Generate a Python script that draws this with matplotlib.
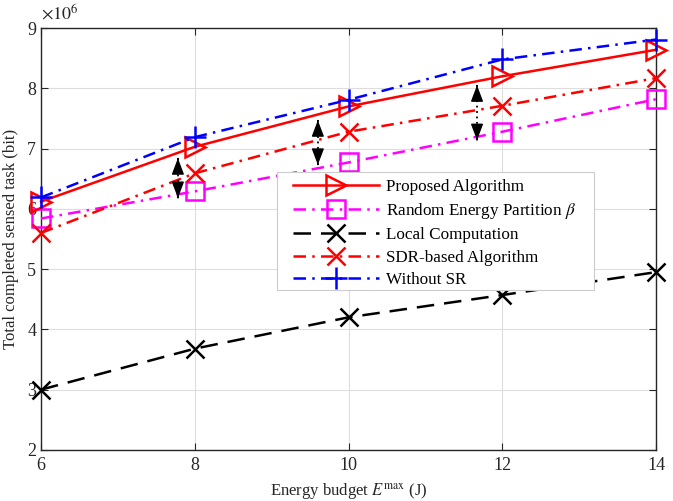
import matplotlib
matplotlib.use("Agg")
import matplotlib.pyplot as plt
from matplotlib.patches import Rectangle

plt.rcParams['font.family'] = ['Liberation Serif', 'DejaVu Serif']
plt.rcParams['mathtext.fontset'] = 'stix'

energy = [6, 8, 10, 12, 14]
proposed = [6.12, 7.03, 7.70, 8.20, 8.64]
random_beta = [5.84, 6.29, 6.77, 7.28, 7.82]
local = [3.00, 3.68, 4.20, 4.57, 4.95]
sdr = [5.60, 6.59, 7.28, 7.71, 8.17]
without_sr = [6.19, 7.19, 7.81, 8.48, 8.81]

labels = ['Proposed Algorithm', r'Random Energy Partition $\beta$',
          'Local Computation', 'SDR-based Algorithm', 'Without SR']

# double arrows (x, y_top, y_bottom)
arrow_x = [7.78, 9.60, 11.67]
arrow_top = [6.84, 7.47, 8.05]
arrow_bot = [6.18, 6.73, 7.14]

fig = plt.figure(figsize=(6.73, 5.01), dpi=100)
ax = fig.add_axes([0.061, 0.102, 0.914, 0.842])

lw = 1.8
dashdot = (0, (5, 2.5, 1, 2.5))
common = dict(clip_on=False)
ax.plot(energy, proposed, color='red', lw=lw, ls='-', marker='>', ms=15,
        mfc='none', mew=1.8, label=labels[0], zorder=5, **common)
ax.plot(energy, random_beta, color='magenta', lw=lw, ls=dashdot, marker='s', ms=12.5,
        mfc='none', mew=1.8, label=labels[1], zorder=4, **common)
ax.plot(energy, local, color='black', lw=lw, ls=(0, (7, 4)), marker='x', ms=13.5,
        mew=1.8, label=labels[2], zorder=4, **common)
ax.plot(energy, sdr, color='red', lw=lw, ls=dashdot, marker='x', ms=12.5,
        mew=1.8, label=labels[3], zorder=4, **common)
ax.plot(energy, without_sr, color='blue', lw=lw, ls=dashdot, marker='+', ms=16,
        mew=1.8, label=labels[4], zorder=6, **common)

head = dict(arrowstyle='-|>,head_length=1.0,head_width=0.38', color='black',
            lw=1.0, shrinkA=0, shrinkB=0)
for x, yt, yb in zip(arrow_x, arrow_top, arrow_bot):
    ax.plot([x, x], [yb, yt], color='black', lw=1.3, ls=(0, (1, 2)), zorder=7)
    ax.annotate('', xy=(x, yt), xytext=(x, yt - 0.01), arrowprops=head, zorder=7)
    ax.annotate('', xy=(x, yb), xytext=(x, yb + 0.01), arrowprops=head, zorder=7)

ax.set_xlim(6, 14)
ax.set_ylim(2, 9)
ax.set_xticks(energy)
ax.set_yticks(range(2, 10))
ax.grid(True, color='#dddddd', lw=0.8)
ax.set_axisbelow(True)
ax.tick_params(direction='in', top=True, right=True, labelsize=13, length=5,
               colors='#262626')
ax.tick_params(axis='x', pad=5)
for s in ax.spines.values():
    s.set_color('#262626')
    s.set_linewidth(1.0)

ax.set_xlabel(r'Energy budget $E^{\mathrm{max}}$ (J)', fontsize=12, color='#262626',
              labelpad=5)
ax.set_ylabel('Total completed sensed task (bit)', fontsize=12, color='#262626',
              labelpad=6)
ax.text(0.0, 1.012, r'$\times10^{6}$', transform=ax.transAxes, fontsize=13,
        color='#262626', ha='left', va='bottom')

# legend frame drawn separately (MATLAB-style wide padding)
frame = Rectangle((0.384, 0.379), 0.515, 0.280, transform=ax.transAxes,
                  facecolor='white', edgecolor='#cccccc', lw=0.8, zorder=8)
ax.add_patch(frame)
leg = ax.legend(loc='upper left', bbox_to_anchor=(0.410, 0.642), fontsize=12.3,
                handlelength=5.0, borderpad=0, labelspacing=0.36,
                handletextpad=0.4, borderaxespad=0, frameon=False)
leg.set_zorder(9)

fig.savefig('out.png', dpi=100)
